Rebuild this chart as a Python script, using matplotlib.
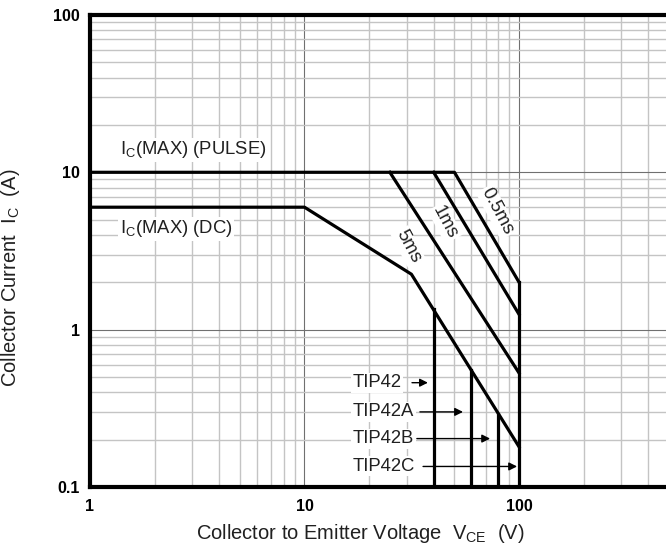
import matplotlib.pyplot as plt

plt.rcParams['font.family'] = ['Liberation Sans', 'DejaVu Sans']
plt.rcParams['mathtext.default'] = 'regular'

# safe operating area curves (VCE in V, IC in A)
pulse_vce = [1, 50, 100]
pulse_ic = [10, 10, 2.0]
ms1_vce = [40, 100]
ms1_ic = [10, 1.25]
ms5_vce = [25, 100]
ms5_ic = [10, 0.53]
dc_vce = [1, 10, 31.5, 100]
dc_ic = [6, 6, 2.25, 0.18]

# VCEO limits for each part
tip_names = ['TIP42', 'TIP42A', 'TIP42B', 'TIP42C']
tip_vce = [40, 60, 80, 100]
tip_top = [1.36, 0.55, 0.29, 2.0]
tip_label_y = [0.46, 0.30, 0.203, 0.135]
tip_arrow_start = [31.7, 34.5, 33.4, 35.7]
tip_arrow_end = [37.6, 54.8, 73.3, 97.9]

fig = plt.figure(figsize=(6.66, 5.54), dpi=100)
ax = fig.add_axes([0.135, 0.121, 0.865, 0.852])
ax.set_xscale('log')
ax.set_yscale('log')
ax.set_xlim(1, 484)
ax.set_ylim(0.1, 100)

ax.grid(True, which='major', color='#707070', lw=0.8, zorder=0)
ax.grid(True, which='minor', color='#c4c4c4', lw=1.0, zorder=0)
ax.set_axisbelow(True)

lw = 2.3
ax.plot(pulse_vce, pulse_ic, color='black', lw=lw, zorder=3)
ax.plot(ms1_vce, ms1_ic, color='black', lw=lw, zorder=3)
ax.plot(ms5_vce, ms5_ic, color='black', lw=lw, zorder=3)
ax.plot(dc_vce, dc_ic, color='black', lw=lw, zorder=3)
for v, top in zip(tip_vce, tip_top):
    ax.plot([v, v], [0.1, top], color='black', lw=lw, zorder=3)

box = dict(facecolor='white', edgecolor='none', pad=1)
txt = '#202020'
ax.text(1.38, 13.9, 'I$_C$(MAX) (PULSE)', fontsize=13.3, color=txt, va='center', bbox=box, zorder=2)
ax.text(1.38, 4.39, 'I$_C$(MAX) (DC)', fontsize=13.3, color=txt, va='center', bbox=box, zorder=2)
ax.text(30.4, 3.37, '5ms', fontsize=13.3, color=txt, rotation=-62, ha='center', va='center', bbox=box, zorder=2)
ax.text(45.2, 4.79, '1ms', fontsize=13.3, color=txt, rotation=-62, ha='center', va='center', bbox=box, zorder=2)
ax.text(78.9, 5.62, '0.5ms', fontsize=13.3, color=txt, rotation=-62, ha='center', va='center', bbox=box, zorder=2)

for name, y, x0, x1 in zip(tip_names, tip_label_y, tip_arrow_start, tip_arrow_end):
    ax.text(16.8, y, name, fontsize=13.3, color=txt, va='center', bbox=box, zorder=2)
    ax.annotate('', xy=(x1, y), xytext=(x0, y),
                arrowprops=dict(arrowstyle='-|>', color='black', lw=1, mutation_scale=12,
                                shrinkA=0, shrinkB=0), zorder=4)

ax.set_xticks([1, 10, 100])
ax.set_xticklabels(['1', '10', '100'])
ax.set_yticks([0.1, 1, 10, 100])
ax.set_yticklabels(['0.1', '1', '10', '100'])
ax.tick_params(which='both', length=0)
ax.tick_params(axis='x', pad=9)
ax.tick_params(axis='y', pad=7)
for lab in ax.get_xticklabels() + ax.get_yticklabels():
    lab.set_fontweight('bold')
    lab.set_fontsize(11.5)

for side in ['left', 'bottom', 'top']:
    ax.spines[side].set_linewidth(3)
ax.spines['right'].set_visible(False)

ax.set_xlabel('Collector to Emitter Voltage  V$_{CE}$  (V)', fontsize=14.5, color=txt)
ax.set_ylabel('Collector Current  I$_C$  (A)', fontsize=14.5, color=txt)
ax.xaxis.set_label_coords(0.469, -0.075)
ax.yaxis.set_label_coords(-0.118, 0.443)

fig.savefig('out.png', dpi=100)
